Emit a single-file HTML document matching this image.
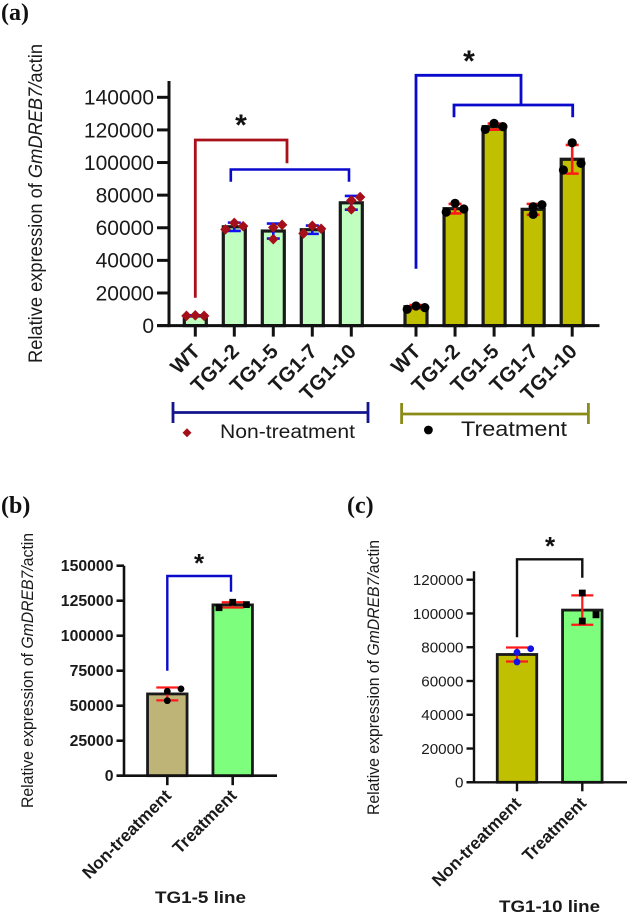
<!DOCTYPE html>
<html lang="en">
<head>
<meta charset="utf-8">
<title>GmDREB7 relative expression</title>
<style>
html,body{margin:0;padding:0;background:#fff;}
svg{display:block;font-family:"Liberation Sans",sans-serif;fill:#1a1a1a;}
.panel-label{font-family:"Liberation Serif",serif;font-weight:bold;font-size:24px;fill:#111;}
</style>
</head>
<body>
<svg id="figure" width="627" height="918" viewBox="0 0 627 918" xmlns="http://www.w3.org/2000/svg">
  <rect width="627" height="918" fill="#fff"/>
  <text class="panel-label" x="1" y="20">(a)</text>
  <text class="panel-label" x="1" y="513">(b)</text>
  <text class="panel-label" x="347" y="513">(c)</text>

  <text transform="translate(42,363) rotate(-90)" font-size="19.5" textLength="319" lengthAdjust="spacingAndGlyphs">Relative expression of <tspan font-style="italic">GmDREB7/</tspan>actin</text>
  <text transform="translate(33,808) rotate(-90)" font-size="16.5" textLength="275" lengthAdjust="spacingAndGlyphs">Relative expression of <tspan font-style="italic">GmDREB7/</tspan>actin</text>
  <text transform="translate(379,815) rotate(-90)" font-size="16.5" textLength="275" lengthAdjust="spacingAndGlyphs">Relative expression of <tspan font-style="italic">GmDREB7/</tspan>actin</text>

  <g>
    <path d="M173 402V423M173 412.5H368M368 402V423" fill="none" stroke="#14148c" stroke-width="2.8"/>
    <path d="M187 428.2L191.5 432.7L187 437.2L182.5 432.7Z" fill="#a50f1a"/>
    <text x="220" y="438" font-size="19" textLength="135" lengthAdjust="spacingAndGlyphs">Non-treatment</text>
  </g>
  <g>
    <path d="M401.6 403V424M401.6 414H588.4M588.4 403V424" fill="none" stroke="#8b8b1a" stroke-width="2.8"/>
    <circle cx="428.4" cy="430" r="4.4" fill="#000"/>
    <text x="461" y="436" font-size="21" textLength="106" lengthAdjust="spacingAndGlyphs">Treatment</text>
  </g>

  <text x="155" y="903" font-size="17" font-weight="bold" textLength="91" lengthAdjust="spacingAndGlyphs">TG1-5 line</text>
  <text x="499" y="912" font-size="17" font-weight="bold" textLength="101" lengthAdjust="spacingAndGlyphs">TG1-10 line</text>
</svg>

<script>
// ---------- Panel (a) data ----------
const aLines = ['WT', 'TG1-2', 'TG1-5', 'TG1-7', 'TG1-10'];
const aTickValues = [0, 20000, 40000, 60000, 80000, 100000, 120000, 140000];
const aTickLabels = ['0', '20000', '40000', '60000', '80000', '100000', '120000', '140000'];
const aNonTreatMeans = [6000, 60600, 58000, 58800, 75300];
const aNonTreatSd = [300, 2550, 4600, 2550, 4200];
const aNonTreatPoints = [[6000, 6300, 6000], [59000, 63000, 61000], [60200, 53000, 61800], [56500, 61200, 59400], [76800, 71300, 78800]];
const aNonTreatJitter = [[-1, 0, 1], [-1, 0, 1], [0, 0, 1], [-1, 0, 1], [0, 0, 1]];
const aTreatMeans = [11600, 71700, 122000, 71300, 102000];
const aTreatSd = [1000, 2900, 1900, 3350, 8800];
const aTreatPoints = [[10000, 12000, 11000], [69600, 75000, 71500], [120300, 124000, 122000], [72900, 68200, 74100], [112100, 95400, 99500]];
const aTreatJitter = [[-1, 0, 1], [-1, 0, 1], [-1, 0, 1], [0, 0, 1], [0, -1, 1]];

// ---------- Panel (b) data ----------
const bCategories = ['Non-treatment', 'Treatment'];
const bTickValues = [0, 25000, 50000, 75000, 100000, 125000, 150000];
const bTickLabels = ['0', '25000', '50000', '75000', '100000', '125000', '150000'];
const bMeans = [58400, 122000];
const bSd = [4600, 1900];
const bPoints = [[60300, 53600, 62000], [120000, 123900, 122200]];
const bJitter = [[0, 0, 1], [-1, 0, 1]];

// ---------- Panel (c) data ----------
const cCategories = ['Non-treatment', 'Treatment'];
const cTickValues = [0, 20000, 40000, 60000, 80000, 100000, 120000];
const cTickLabels = ['0', '20000', '40000', '60000', '80000', '100000', '120000'];
const cMeans = [75700, 102000];
const cSd = [4150, 8700];
const cPoints = [[77000, 71300, 79100], [112100, 95500, 99200]];
const cJitter = [[0, 0, 1], [0, 0, 1]];

// ---------- Drawing helpers ----------
const NS = 'http://www.w3.org/2000/svg';
const svg = document.getElementById('figure');

function make(tag, parent, name, attrs) {
  const el = document.createElementNS(NS, tag);
  
  
  for (const k in attrs) el.setAttribute(k, attrs[k]);
  parent.appendChild(el);
  return el;
}
function linearY(y0, yAtRef, ref) {
  return v => y0 - v * (y0 - yAtRef) / ref;
}
function marker(parent, kind, name, x, y, r, fill) {
  if (kind === 'circle') {
    make('circle', parent, name, {cx: x, cy: y, r: r, fill: fill});
  } else if (kind === 'diamond') {
    const d = r * 1.15;
    make('path', parent, name, {d: `M${x} ${y - d}L${x + d} ${y}L${x} ${y + d}L${x - d} ${y}Z`, fill: fill});
  } else {
    make('rect', parent, name, {x: x - r, y: y - r, width: 2 * r, height: 2 * r, fill: fill});
  }
}
function drawAxes(g, o) {
  o.tickValues.forEach((v, i) => {
    const y = o.y(v);
    make('line', g, 'y-tick-' + o.tickLabels[i], {x1: o.axisX - o.tickLen, x2: o.axisX, y1: y, y2: y, stroke: '#111', 'stroke-width': o.axisWidth});
    const t = make('text', g, 'y-tick-label-' + o.tickLabels[i], {x: o.axisX - o.tickLen - 3, y: y + o.tickFont * 0.35, 'text-anchor': 'end', 'font-size': o.tickFont, 'font-weight': o.tickWeight});
    t.textContent = o.tickLabels[i];
  });
  make('line', g, 'y-axis', {x1: o.axisX, x2: o.axisX, y1: o.y(o.axisMax), y2: o.y(0) + o.axisWidth / 2, stroke: '#111', 'stroke-width': o.axisWidth});
  make('line', g, 'x-axis', {x1: o.axisX - o.tickLen, x2: o.axisEnd, y1: o.y(0), y2: o.y(0), stroke: '#111', 'stroke-width': o.axisWidth});
}
function drawXLabels(g, cats, xs, o) {
  cats.forEach((c, i) => {
    const x = xs(i);
    make('line', g, 'x-tick-' + c, {x1: x, x2: x, y1: o.y(0), y2: o.y(0) + o.xTickLen, stroke: '#111', 'stroke-width': o.axisWidth});
    const t = make('text', g, 'x-tick-label-' + c, {transform: `translate(${x + o.labelDx},${o.y(0) + o.labelDy}) rotate(-45)`, 'text-anchor': 'end', 'font-size': o.labelFont, 'font-weight': 'bold'});
    t.textContent = c;
  });
}
function drawSeries(g, prefix, cats, means, sds, points, jitter, xs, o, s) {
  means.forEach((m, i) => {
    const x = xs(i), top = o.y(m);
    make('rect', g, prefix + 'bar-' + cats[i], {
      x: x - o.barW / 2, y: top, width: o.barW, height: o.y(0) - top,
      fill: Array.isArray(s.fill) ? s.fill[i] : s.fill, stroke: '#1a1a1a', 'stroke-width': o.barStroke
    });
  });
  means.forEach((m, i) => {
    const x = xs(i), hi = o.y(m + sds[i]), lo = o.y(m - sds[i]);
    make('path', g, prefix + 'error-bar-' + cats[i], {
      d: `M${x} ${hi}V${lo}M${x - o.cap} ${hi}H${x + o.cap}M${x - o.cap} ${lo}H${x + o.cap}`,
      fill: 'none', stroke: s.err, 'stroke-width': o.errW
    });
  });
  points.forEach((row, i) => {
    row.forEach((v, j) => {
      const kind = Array.isArray(s.kind) ? s.kind[i] : s.kind;
      const col = Array.isArray(s.dot) ? s.dot[i] : s.dot;
      marker(g, kind, prefix + 'point-' + cats[i] + '-' + (j + 1), xs(i) + jitter[i][j] * o.jitter, o.y(v), o.r, col);
    });
  });
}
function bracket(g, name, x1, x2, yTop, yLeft, yRight, color, w) {
  make('path', g, name, {d: `M${x1} ${yLeft}V${yTop}H${x2}V${yRight}`, fill: 'none', stroke: color, 'stroke-width': w});
}
function star(g, name, x, y, size) {
  const t = make('text', g, name, {x: x, y: y, 'text-anchor': 'middle', 'font-size': size, 'font-weight': 'bold', fill: '#111'});
  t.textContent = '*';
}

// ---------- Panel (a) ----------
const gA = make('g', svg, 'chart-a', {});
const yA = linearY(325.6, 97.3, 140000);
const xNon = i => 195.3 + 39 * i;
const xTrt = i => 416 + 39.05 * i;
const optA = {y: yA, axisX: 169, axisEnd: 599.5, axisMax: 150000, axisWidth: 3, tickLen: 12, xTickLen: 11, tickFont: 21, tickWeight: 'normal',
  tickValues: aTickValues, tickLabels: aTickLabels, barW: 22, barStroke: 3.2, cap: 6.5, errW: 2.6, jitter: 8.8, r: 4.6,
  labelFont: 20.5, labelDx: 6, labelDy: 27};
drawSeries(gA, 'non-treatment-', aLines, aNonTreatMeans, aNonTreatSd, aNonTreatPoints, aNonTreatJitter, xNon, optA, {fill: '#c0ffc0', err: '#1010f0', kind: 'diamond', dot: '#a50f1a'});
drawSeries(gA, 'treatment-', aLines, aTreatMeans, aTreatSd, aTreatPoints, aTreatJitter, xTrt, optA, {fill: '#c0c000', err: '#ff1a1a', kind: 'circle', dot: '#000'});
drawAxes(gA, optA);
drawXLabels(gA, aLines, xNon, optA);
drawXLabels(gA, aLines, xTrt, optA);
bracket(gA, 'significance-bracket-non-treatment-wt', xNon(0), 287, 140, 297.7, 163.3, '#a8101a', 2.8);
bracket(gA, 'significance-bracket-non-treatment-tg', xNon(1) - 3.5, 349, 169.5, 181.7, 181.7, '#0a0acd', 2.6);
star(gA, 'significance-star-non-treatment', 241, 135, 30);
bracket(gA, 'significance-bracket-treatment-wt', xTrt(0), 521, 75.3, 268.7, 105, '#0a0acd', 2.8);
bracket(gA, 'significance-bracket-treatment-tg', 454, 572.7, 105, 117.3, 117.3, '#0a0acd', 2.8);
star(gA, 'significance-star-treatment', 469, 71, 30);

// ---------- Panel (b) ----------
const gB = make('g', svg, 'chart-b', {});
const yB = linearY(775.7, 565.7, 150000);
const xB = i => 167.3 + 65.4 * i;
const optB = {y: yB, axisX: 124, axisEnd: 277, axisMax: 150000, axisWidth: 2.6, tickLen: 7.5, xTickLen: 9.5, tickFont: 15.8, tickWeight: 'bold',
  tickValues: bTickValues, tickLabels: bTickLabels, barW: 39.5, barStroke: 2.8, cap: 11, errW: 2.2, jitter: 13.7, r: 3.4,
  labelFont: 17.2, labelDx: 5, labelDy: 21};
drawSeries(gB, '', bCategories, bMeans, bSd, bPoints, bJitter, xB, optB, {fill: ['#bfb478', '#7dff7d'], err: '#ff1a1a', kind: ['circle', 'square'], dot: '#000'});
drawAxes(gB, optB);
drawXLabels(gB, bCategories, xB, optB);
bracket(gB, 'significance-bracket-b', xB(0), 231, 576, 670.7, 591.7, '#0a0acd', 2.4);
star(gB, 'significance-star-b', 199, 572, 26);

// ---------- Panel (c) ----------
const gC = make('g', svg, 'chart-c', {});
const yC = linearY(782.3, 579.7, 120000);
const xC = i => 517 + 65.3 * i;
const optC = {y: yC, axisX: 474, axisEnd: 627, axisMax: 125000, axisWidth: 2.4, tickLen: 7.5, xTickLen: 9, tickFont: 15.2, tickWeight: 'normal',
  tickValues: cTickValues, tickLabels: cTickLabels, barW: 39.5, barStroke: 2.8, cap: 11, errW: 2.2, jitter: 13.7, r: 3.4,
  labelFont: 17.2, labelDx: 5, labelDy: 22};
drawSeries(gC, '', cCategories, cMeans, cSd, cPoints, cJitter, xC, optC, {fill: ['#c0c000', '#7dff7d'], err: '#ff1a1a', kind: ['circle', 'square'], dot: ['#1414e6', '#000']});
drawAxes(gC, optC);
drawXLabels(gC, cCategories, xC, optC);
bracket(gC, 'significance-bracket-c', xC(0), xC(1), 559.3, 637.3, 577.7, '#111', 2.4);
star(gC, 'significance-star-c', 550, 555, 26);
</script>
</body>
</html>
